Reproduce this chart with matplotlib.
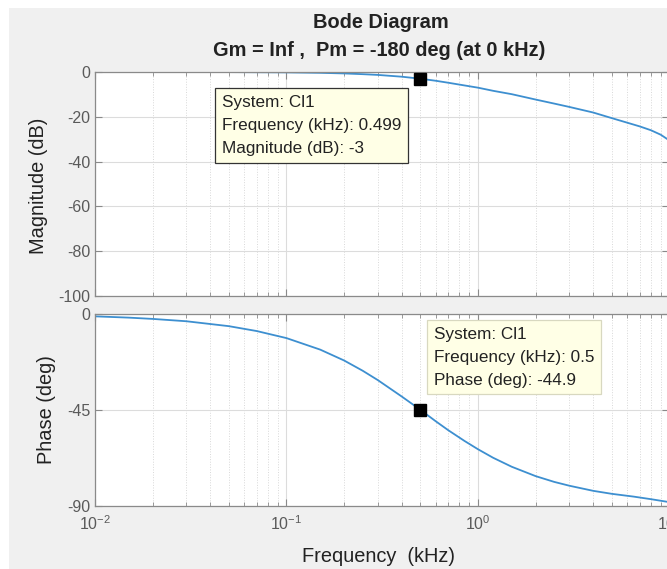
import numpy as np
import matplotlib.pyplot as plt
from matplotlib.patches import Rectangle
from matplotlib.ticker import LogLocator, NullFormatter

plt.rcParams['font.family'] = ['Liberation Sans', 'DejaVu Sans']

# values
mag_freq_khz = [0.01, 0.02, 0.05, 0.1, 0.15, 0.2, 0.25, 0.3, 0.4, 0.5, 0.6,
                0.7, 0.85, 1.0, 1.2, 1.5, 2.0, 2.5, 3.0, 4.0, 5.0, 6.0, 7.0,
                8.0, 9.0, 10.0]
mag_db = [0.0, -0.01, -0.04, -0.17, -0.37, -0.64, -0.97, -1.3, -2.1, -3.0, -3.9,
          -4.8, -6.0, -7.0, -8.4, -9.9, -12.3, -14.1, -15.6, -18.1, -20.6, -22.6,
          -24.3, -26.0, -28.0, -30.6]

phase_freq_khz = [0.01, 0.015, 0.02, 0.03, 0.05, 0.07, 0.1, 0.15, 0.2, 0.25,
                  0.3, 0.4, 0.5, 0.6, 0.7, 0.85, 1.0, 1.2, 1.5, 2.0, 2.5, 3.0,
                  4.0, 5.0, 6.5, 8.0, 10.0]
phase_deg = [-1.1, -1.7, -2.3, -3.4, -5.7, -8.0, -11.3, -16.7, -21.8, -26.6,
             -31.0, -38.7, -44.9, -50.2, -54.5, -59.5, -63.4, -67.4, -71.6,
             -76.0, -78.7, -80.5, -82.9, -84.3, -85.6, -86.8, -88.2]

mag_tip = (0.499, -3.0)
phase_tip = (0.5, -44.9)
mag_tip_text = "System: Cl1\nFrequency (kHz): 0.499\nMagnitude (dB): -3"
phase_tip_text = "System: Cl1\nFrequency (kHz): 0.5\nPhase (deg): -44.9"

W, H = 667, 569
BG = '#f0f0f0'
LINE = '#3d8fd0'
TICKC = '#5a5a5a'
SPINE = '#8a8a8a'


def fx(px):
    return px / W


def fy(py):
    return 1 - py / H


fig = plt.figure(figsize=(W / 100, H / 100), dpi=100, facecolor=BG)
fig.patches.append(Rectangle((0, fy(8)), 1, 8 / H, transform=fig.transFigure,
                             facecolor='white', edgecolor='none', zorder=-1))
fig.patches.append(Rectangle((0, 0), 9 / W, 1, transform=fig.transFigure,
                             facecolor='white', edgecolor='none', zorder=-1))

left, right = 95, 669.5
ax1 = fig.add_axes([fx(left), fy(296), fx(right - left), (296 - 72) / H])
ax2 = fig.add_axes([fx(left), fy(506), fx(right - left), (506 - 314) / H])


def style(ax):
    ax.set_xscale('log')
    ax.set_xlim(0.01, 10)
    ax.xaxis.set_major_locator(LogLocator(base=10, numticks=10))
    ax.xaxis.set_minor_locator(LogLocator(base=10, subs=np.arange(2, 10), numticks=20))
    ax.xaxis.set_minor_formatter(NullFormatter())
    ax.grid(True, which='major', color='#dcdcdc', linewidth=0.8, linestyle='-')
    ax.grid(True, which='minor', axis='x', color='#d8d8d8', linewidth=0.7, linestyle=':')
    ax.tick_params(which='both', direction='in', top=True, right=True,
                   colors=SPINE, labelcolor=TICKC, labelsize=11.5)
    ax.tick_params(which='major', length=5)
    ax.tick_params(which='minor', length=3)
    for s in ax.spines.values():
        s.set_color(SPINE)
        s.set_linewidth(0.9)
    ax.set_axisbelow(True)


style(ax1)
style(ax2)

tip_font = 12.3

ax1.plot(mag_freq_khz, mag_db, color=LINE, linewidth=1.3)
ax1.set_ylim(-100, 0)
ax1.set_yticks([0, -20, -40, -60, -80, -100])
ax1.set_yticklabels(['0', '-20', '-40', '-60', '-80', '-100'])
ax1.tick_params(axis='x', labelbottom=False)
ax1.plot(*mag_tip, marker='s', color='black', markersize=8, clip_on=False, zorder=5)
ax1.text(0.046, -10.3, mag_tip_text, fontsize=tip_font, color='#222222', va='top',
         linespacing=1.65,
         bbox=dict(boxstyle='square,pad=0.4', facecolor='#ffffe6',
                   edgecolor='#333333', linewidth=0.9))

ax2.plot(phase_freq_khz, phase_deg, color=LINE, linewidth=1.3)
ax2.set_ylim(-90, 0)
ax2.set_yticks([0, -45, -90])
ax2.set_yticklabels(['0', '-45', '-90'])
ax2.plot(*phase_tip, marker='s', color='black', markersize=8, clip_on=False, zorder=5)
ax2.text(0.589, -6.1, phase_tip_text, fontsize=tip_font, color='#222222', va='top',
         linespacing=1.65,
         bbox=dict(boxstyle='square,pad=0.4', facecolor='#ffffe6',
                   edgecolor='#d8d8c0', linewidth=0.9))
ax2.tick_params(axis='x', labelsize=11.5, pad=6)

fig.text(fx(381), fy(22), 'Bode Diagram', ha='center', va='center',
         fontsize=14.4, fontweight='bold', color='#222222')
fig.text(fx(379), fy(50), 'Gm = Inf ,  Pm = -180 deg (at 0 kHz)', ha='center',
         va='center', fontsize=14.4, fontweight='bold', color='#222222')
fig.text(fx(38), fy(186), 'Magnitude (dB)', rotation=90, ha='center',
         va='center', fontsize=14.4, color='#222222')
fig.text(fx(46), fy(410), 'Phase (deg)', rotation=90, ha='center',
         va='center', fontsize=14.4, color='#222222')
fig.text(fx(379), fy(557), 'Frequency  (kHz)', ha='center', va='center',
         fontsize=14.4, color='#222222')

fig.savefig('out.png', dpi=100, facecolor=BG)
